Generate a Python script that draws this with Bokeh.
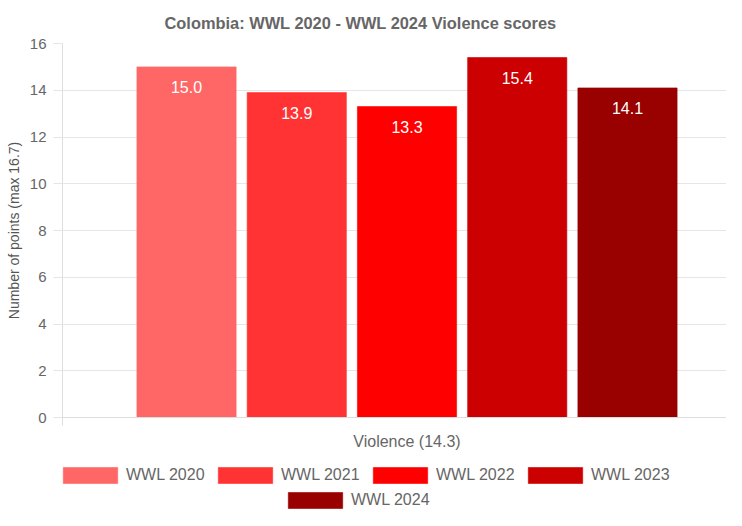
from bokeh.plotting import figure
from bokeh.layouts import column
from bokeh.models import Range1d, FixedTicker, Legend, LegendItem, ColumnDataSource
from bokeh.core.properties import value
from bokeh.embed import file_html
from bokeh.resources import INLINE

title_text = "Colombia: WWL 2020 - WWL 2024 Violence scores"
category = "Violence (14.3)"
series = ["WWL 2020", "WWL 2021", "WWL 2022", "WWL 2023", "WWL 2024"]
scores = [15.0, 13.9, 13.3, 15.4, 14.1]
colors = ["#ff6666", "#ff3333", "#ff0000", "#cc0000", "#990000"]
y_ticks = [0, 2, 4, 6, 8, 10, 12, 14, 16]
y_label = "Number of points (max 16.7)"

FONT = "Liberation Sans"
GREY = "#666666"

# grouped-bar layout (the single category occupies 0..1)
n = len(series)
slot = 0.8 / n
bar_w = slot * 0.9
xs = [0.5 + (i - (n - 1) / 2) * slot for i in range(n)]

src = ColumnDataSource(dict(
    x=xs, top=scores, color=colors, name=series,
    label=[f"{v:.1f}" for v in scores],
))

# ---------------- main chart ----------------
p = figure(width=726, height=452, output_backend="svg", toolbar_location=None,
           x_range=Range1d(0, 0.9637), y_range=Range1d(0, 16),
           min_border_left=62, min_border_right=0, min_border_top=40,
           min_border_bottom=34)
p.outline_line_color = None

p.title.text = title_text
p.title.align = "left"
p.title.offset = 102
p.title.text_font = FONT
p.title.text_font_size = "16.4px"
p.title.text_font_style = "bold"
p.title.text_color = GREY
p.title.standoff = 23

p.vbar(x="x", top="top", width=bar_w, bottom=0, source=src,
       fill_color="color", line_color="color", line_alpha=0.6)

p.text(x="x", y="top", text="label", source=src, text_align="center",
       text_baseline="middle", y_offset=20, text_color="white",
       text_font=value(FONT), text_font_size="16px")

ya = p.yaxis[0]
ya.ticker = FixedTicker(ticks=y_ticks)
ya.axis_label = y_label
ya.axis_label_text_font = FONT
ya.axis_label_text_font_size = "14px"
ya.axis_label_text_font_style = "normal"
ya.axis_label_text_color = "#555555"
ya.axis_label_standoff = 5
ya.major_label_text_font = FONT
ya.major_label_text_font_size = "15px"
ya.major_label_text_color = GREY
ya.major_label_standoff = 7
ya.major_tick_out = 9
ya.major_tick_in = 0
ya.major_tick_line_color = "#e5e5e5"
ya.minor_tick_line_color = None
ya.axis_line_color = "#dddddd"

xa = p.xaxis[0]
xa.ticker = FixedTicker(ticks=[0.5], minor_ticks=[0])
xa.major_label_overrides = {0.5: category}
xa.major_label_text_font = FONT
xa.major_label_text_font_size = "16px"
xa.major_label_text_color = GREY
xa.major_label_standoff = 7
xa.major_tick_out = 0
xa.major_tick_in = 0
xa.major_tick_line_color = None
xa.minor_tick_out = 8
xa.minor_tick_in = 0
xa.minor_tick_line_color = "#dddddd"
xa.axis_line_color = "#dddddd"

p.xgrid.grid_line_color = None
p.ygrid.grid_line_color = "#e6e6e6"

# ---------------- legend strip ----------------
lp = figure(width=726, height=58, output_backend="svg", toolbar_location=None,
            x_range=Range1d(0, 1), y_range=Range1d(0, 1),
            x_axis_type=None, y_axis_type=None,
            min_border_left=0, min_border_right=0, min_border_top=0,
            min_border_bottom=0)
lp.outline_line_color = None
lp.xgrid.grid_line_color = None
lp.ygrid.grid_line_color = None

keys = []
for i in range(n):
    r = lp.vbar(x=xs[i], top=scores[i], width=bar_w, bottom=0,
                fill_color=colors[i], line_color=colors[i], line_alpha=0.6,
                visible=False)
    keys.append(r)

def make_legend(idx, loc):
    items = [LegendItem(label=series[i], renderers=[keys[i]]) for i in idx]
    return Legend(items=items, orientation="horizontal", location=loc,
                  glyph_width=68, glyph_height=20, label_standoff=2,
                  label_width=80, spacing=5, padding=0, margin=0,
                  border_line_color=None, background_fill_alpha=0,
                  click_policy="none",
                  label_text_font=FONT, label_text_font_size="16px",
                  label_text_color=GREY, label_height=20)

lp.add_layout(make_legend([0, 1, 2, 3], (-6, 25)), "center")
lp.add_layout(make_legend([4], (219, 0)), "center")

layout = column(p, lp, spacing=0)
open("out.html", "w").write(file_html(layout, INLINE))
